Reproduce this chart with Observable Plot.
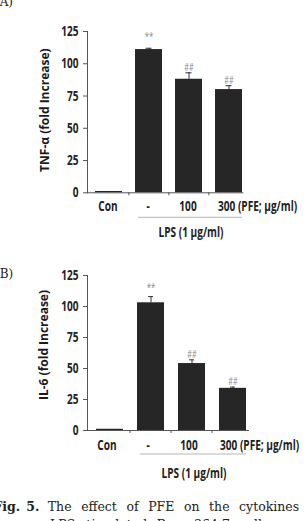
<!DOCTYPE html>
<html>
<head>
<meta charset="utf-8">
<script src="https://cdn.jsdelivr.net/npm/d3@7"></script>
<script src="https://cdn.jsdelivr.net/npm/@observablehq/plot@0.6"></script>
<style>
  html, body { margin: 0; padding: 0; background: #fff; }
  #page { position: relative; width: 307px; height: 521px; overflow: hidden; }
  .panel { position: absolute; left: 0; }
  .tag { position: absolute; font-family: "DejaVu Serif", serif; font-size: 12px; line-height: 12px; color: #222; white-space: nowrap; }
  #caption { position: absolute; left: -6.5px; top: 498px; font-family: "DejaVu Serif", serif; font-size: 12.5px; line-height: 18px; color: #222; white-space: nowrap; }
  #caption .num { margin-left: 6px; }
  #caption .body { margin-left: 8.5px; word-spacing: 5.6px; }
  #caption .indent { padding-left: 56.5px; word-spacing: 5.6px; }
</style>
</head>
<body>
<div id="page">
  <div class="tag" id="tagA" style="left:-5px; top:-4px;"></div>
  <div class="panel" id="panelA" style="top:0px;"></div>
  <div class="panel" id="panelB" style="top:240px;"></div>
  <div class="tag" id="tagB" style="left:-5px; top:268px;"></div>
  <div id="caption"></div>
</div>
<script>
// Treatment groups (x axis) and the dose unit printed after the last one
const groups = ["Con", "-", "100", "300"];
const doseUnit = "(PFE; μg/ml)";
const lpsLabel = "LPS (1 μg/ml)";
const yTicks = [0, 25, 50, 75, 100, 125];

// (A) TNF-α, fold increase over control
const tnfValues = [1, 111, 88, 80];
const tnfErrors = [0, 1, 5, 3];
const tnfMarks = ["", "**", "##", "##"];

// (B) IL-6, fold increase over control
const il6Values = [1, 103, 54, 34];
const il6Errors = [0, 5, 3, 1];
const il6Marks = ["", "**", "##", "##"];

const panelTags = ["(A)", "(B)"];
const captionHead = ["Fig.", "5."];
const captionLines = ["The effect of PFE on the cytokines in", "LPS-stimulated Raw 264.7 cells."];

const tickFont = `"Open Sans", "DejaVu Sans", sans-serif`;
const titleFont = `"Open Sans", "DejaVu Sans", sans-serif`;

// squeeze the upright labels horizontally for a condensed look
function condense(svg, s) {
  svg.querySelectorAll("text").forEach(t => {
    if (t.closest('[transform*="rotate"]')) return;
    const tr = t.getAttribute("transform") || "";
    if (tr.includes("rotate")) return;
    const xa = t.getAttribute("x");
    let pre = "";
    if (xa !== null && !isNaN(+xa)) { pre = ` translate(${+xa},0)`; t.removeAttribute("x"); }
    t.setAttribute("transform", `${tr}${pre} scale(${s},1)`);
  });
}

function panel(o) {
  const rows = groups.map((g, i) => ({
    group: g, value: o.values[i], err: o.errors[i], hi: o.values[i] + o.errors[i], mark: o.marks[i]
  }));
  const treated = rows.filter(d => d.err > 0);
  const step = (o.xRange[1] - o.xRange[0]) / (groups.length - o.pad);
  const bw = step * (1 - o.pad);
  const capInset = (bw - 6) / 2;
  const svg = Plot.plot({
    width: 307,
    height: o.height,
    marginTop: o.frameTop,
    marginBottom: o.height - o.frameBottom,
    marginLeft: o.left,
    marginRight: 307 - o.xRange[1],
    style: { fontFamily: tickFont, fontSize: "14px", fontWeight: "bold", color: "#222", background: "transparent", overflow: "visible" },
    x: { domain: groups, range: o.xRange, paddingInner: o.pad, paddingOuter: 0, axis: null },
    y: { domain: [0, 125], axis: null },
    marks: [
      Plot.barY(rows, { x: "group", y: "value", fill: "#262626" }),
      Plot.ruleX(treated, { x: "group", y1: "value", y2: "hi", stroke: "#333", strokeWidth: 1 }),
      Plot.tickY(treated, { x: "group", y: "hi", stroke: "#333", strokeWidth: 1, insetLeft: capInset, insetRight: capInset }),
      Plot.text(rows.filter(d => d.mark === "**"), {
        x: "group", y: "hi", text: "mark", dy: o.starDy, fill: "#8a8a8a", fontSize: 11, fontWeight: "normal"
      }),
      Plot.text(rows.filter(d => d.mark === "##"), {
        x: "group", y: "hi", text: "mark", dy: o.hashDy, fill: "#8a8a8a", fontSize: 10, fontWeight: "normal"
      }),
      Plot.axisY(yTicks, { tickSize: 4, tickPadding: 5, stroke: "#555", fill: "#222" }),
      Plot.frame({ anchor: "left", stroke: "#555" }),
      Plot.frame({ anchor: "bottom", stroke: "#555" }),
      // short ticks between neighbouring groups
      Plot.ruleX(groups.slice(1), { x: d => d, y1: 0, y2: 0, dx: -step / 2, insetBottom: -3, stroke: "#555" }),
      // group labels
      Plot.text(groups.slice(0, 3), { x: d => d, frameAnchor: "bottom", lineAnchor: "top", dy: o.labelDy, dx: o.labelDx, fill: "#222" }),
      Plot.text([groups[3] + " " + doseUnit], { x: () => groups[3], frameAnchor: "bottom", lineAnchor: "top", textAnchor: "start", dy: o.labelDy, dx: o.labelDx - 10, fill: "#222" }),
      // bracket under the LPS-treated groups
      Plot.ruleY([0], { x1: () => groups[1], x2: () => groups[3], dy: o.lpsDy, insetLeft: 3, stroke: "#b5b5b5", strokeWidth: 1 }),
      Plot.text([lpsLabel], { x: () => groups[2], frameAnchor: "bottom", lineAnchor: "bottom", dy: o.lpsTextDy, dx: 2, fill: "#222" }),
      // y axis title
      Plot.text([o.title], {
        frameAnchor: "left", textAnchor: "middle", rotate: -90, dx: o.titleDx, dy: o.titleDy,
        fontFamily: titleFont, fontWeight: "bold", fontSize: 12, fill: "#1a1a1a", letterSpacing: "0.5px"
      })
    ]
  });
  condense(svg, 0.72);
  return svg;
}

document.getElementById("panelA").append(panel({
  values: tnfValues, errors: tnfErrors, marks: tnfMarks,
  title: "TNF-α (fold Increase)",
  height: 240, frameTop: 31, frameBottom: 192.3, left: 87,
  xRange: [94.5, 242.3], pad: 0.33,
  starDy: -12, hashDy: -5, labelDy: 8.5, labelDx: -1,
  lpsDy: 24.5, lpsTextDy: 44, titleDx: -42, titleDy: -2
}));

document.getElementById("panelB").append(panel({
  values: il6Values, errors: il6Errors, marks: il6Marks,
  title: "IL-6 (fold Increase)",
  height: 250, frameTop: 35, frameBottom: 190, left: 87,
  xRange: [94, 248], pad: 0.333,
  starDy: -9, hashDy: -5, labelDy: 9.5, labelDx: -3,
  lpsDy: 23.5, lpsTextDy: 47, titleDx: -43, titleDy: -8
}));

document.getElementById("tagA").textContent = panelTags[0];
document.getElementById("tagB").textContent = panelTags[1];

const cap = document.getElementById("caption");
const l1 = document.createElement("div");
const h1 = document.createElement("b"); h1.textContent = captionHead[0];
const h2 = document.createElement("b"); h2.className = "num"; h2.textContent = captionHead[1];
const b1 = document.createElement("span"); b1.className = "body"; b1.textContent = captionLines[0];
l1.append(h1, h2, b1);
const l2 = document.createElement("div");
l2.className = "indent";
l2.textContent = captionLines[1];
cap.append(l1, l2);
</script>
</body>
</html>
